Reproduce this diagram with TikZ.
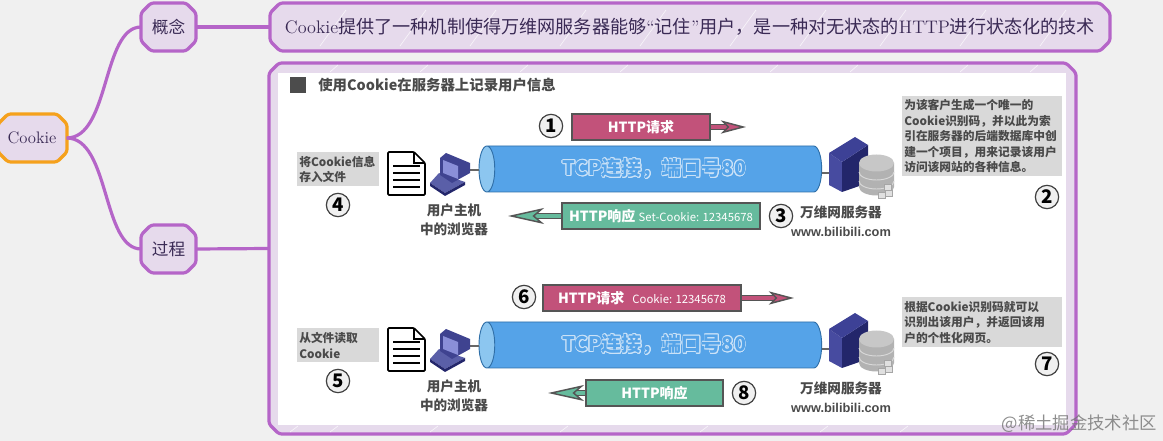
\documentclass[tikz,border=0pt]{standalone}
\usepackage{fontspec}
\newfontfamily\cjk{Noto Sans CJK SC}
\newfontfamily\lat{Liberation Sans}
\usepackage[copies]{contour}
\usetikzlibrary{shapes.geometric,arrows.meta}
\newcommand{\fwc}{\char"FF0C\relax}
\definecolor{bgcol}{HTML}{F0F0F0}
\definecolor{mapline}{HTML}{B565C8}
\definecolor{mapfill}{HTML}{E6DAEC}
\definecolor{rootline}{HTML}{F5A11C}
\definecolor{maptext}{HTML}{3A2A55}
\definecolor{imgtext}{HTML}{4A4A4A}
\definecolor{pipeblue}{HTML}{55A3E8}
\definecolor{pipeend}{HTML}{8CC6F0}
\definecolor{pipeline}{HTML}{2F6FA8}
\definecolor{reqpink}{HTML}{C2527A}
\definecolor{respgreen}{HTML}{66BB9D}
\definecolor{boxline}{HTML}{555555}
\definecolor{notegray}{HTML}{D9D9D9}
\definecolor{srvtop}{HTML}{3D4196}
\definecolor{srvleft}{HTML}{474BA0}
\definecolor{srvright}{HTML}{23266B}
\definecolor{hostbody}{HTML}{3F4390}
\definecolor{hostscreen}{HTML}{8A8FD8}
\definecolor{hostbase}{HTML}{5A5FA8}
\contourlength{0.6pt}
\begin{document}
\begin{tikzpicture}[x=0.75pt,y=-0.75pt]
    \tikzstyle{mapframe}=[draw=mapline, fill=mapfill, line width=2.4pt, rounded corners=2pt]
    \tikzstyle{mapbox}=[rectangle, text=maptext, inner sep=0pt, outer sep=0pt, font=\fontsize{12.5}{15}\selectfont]
    \tikzstyle{mapedge}=[draw=mapline, line width=2.4pt]
    \tikzstyle{streak}=[white, line width=0.5pt, opacity=0.7]
    \tikzstyle{httpbox}=[draw=boxline, line width=1.5pt, text=white, inner sep=0pt, font=\cjk\bfseries\fontsize{10.5}{12}\selectfont]
    \tikzstyle{req}=[httpbox, fill=reqpink]
    \tikzstyle{resp}=[httpbox, fill=respgreen]
    \tikzstyle{reqarrow}=[draw=boxline, line width=1pt, double=reqpink, double distance=3pt, -{Stealth[length=19pt,width=10pt,inset=5pt,fill=reqpink,line width=1.1pt]}]
    \tikzstyle{resparrow}=[draw=boxline, line width=1pt, double=respgreen, double distance=3pt, -{Stealth[length=27pt,width=12pt,inset=7pt,fill=respgreen,line width=1.1pt]}]
    \tikzstyle{num}=[circle, draw=black!75, fill=black!6, line width=0.9pt, minimum size=17.5pt, inner sep=0pt, font=\cjk\bfseries\fontsize{14}{14}\selectfont, text=black]
    \tikzstyle{note}=[fill=notegray, text=imgtext, inner sep=1.5pt, align=left, anchor=north west, font=\cjk\bfseries\fontsize{8.8}{11.6}\selectfont]
    \tikzstyle{iconlabel}=[text=imgtext, align=center, font=\cjk\bfseries\fontsize{10.2}{14}\selectfont]
    \tikzstyle{pipe}=[cylinder, shape border rotate=180, aspect=0.75, cylinder uses custom fill, cylinder body fill=pipeblue, cylinder end fill=pipeend, draw=pipeline, line width=0.7pt, minimum height=257pt, minimum width=34.5pt, inner sep=0pt, font=\cjk\bfseries\fontsize{15}{18}\selectfont]

    \useasboundingbox (0,0) rectangle (1163,441);
    \fill[bgcol] (0,0) rectangle (1163,441);

    % frames under the mind map nodes
    \foreach \xa/\ya/\xb/\yb/\col in {-2/114/67/162/rootline, 141/3/196/51/mapline, 141/225/196/273/mapline, 270/3/1110/51/mapline, 269/63/1076/434/mapline}
        \draw[mapframe, draw=\col] (\xa+10,\ya) -- (\xb-10,\ya) -- (\xb,\ya+10) -- (\xb,\yb-10) -- (\xb-10,\yb) -- (\xa+10,\yb) -- (\xa,\yb-10) -- (\xa,\ya+10) -- cycle;
    \foreach \s in {320,400,470,560,640,730,800,880,960,1040}
        \draw[streak] (\s,46) -- (\s+26,10);
    \foreach \s in {330,420,520,620,770,850,960,1030}
        \draw[streak] (\s,72) -- (\s+8,65);
    \foreach \s in {290,330,430,560,700,820,900}
        \draw[streak] (\s,432) -- (\s+8,426);

    % mind map
    \node[mapbox, minimum width=52pt, minimum height=36pt] (cookie) at (32,138) {Cookie};
    \node[mapbox, minimum width=41pt, minimum height=36pt] (concept) at (168.5,27) {\cjk 概念};
    \node[mapbox, minimum width=41pt, minimum height=36pt] (process) at (168.5,249) {\cjk 过程};
    \node[mapbox, minimum width=630pt, minimum height=36pt, font=\fontsize{13.6}{15}\selectfont] (define) at (690,27) {Cookie{\cjk 提供了一种机制使得万维网服务器能够}“{\cjk 记住}”{\cjk 用户\fwc 是一种对无状态的}HTTP{\cjk 进行状态化的技术}\hspace{9pt}};
    \node[mapbox, minimum width=605pt, minimum height=278pt] (detail) at (672.5,248.5) {};
    \fill[white] (278,73) rectangle (1066,425);

    \draw[mapedge] (cookie.east) .. controls (110,138) and (102,27) .. (concept.west);
    \draw[mapedge] (cookie.east) .. controls (110,138) and (102,249) .. (process.west);
    \draw[mapedge] (concept.east) -- (define.west);
    \draw[mapedge] (process.east) -- (detail.west);

    \fill[black!70] (290,77) rectangle (306,93);
    \node[anchor=west, text=imgtext, inner sep=0pt, font=\cjk\bfseries\fontsize{10.8}{12}\selectfont] (title) at (318,85) {使用Cookie在服务器上记录用户信息};

    % both connections
    \foreach \r/\dy in {A/0,B/176}{
        \begin{scope}[yshift=-\dy*0.75pt]
            \coordinate (hostport\r) at (470,170);
            \coordinate (srvport\r) at (829,173);
            \node[pipe] (pipe\r) at (654.5,169) {\textcolor{pipeblue}{\contour{white!70!pipeblue}{TCP连接\fwc 端口号80}}};
            \draw[black!60, line width=1pt] (hostport\r) -- (pipe\r.west |- hostport\r);
            \draw[black!60, line width=1pt] (pipe\r.east |- srvport\r) -- (srvport\r);
            % document
            \draw[black, line width=1.3pt, fill=white, rounded corners=0.8pt] (388,152) -- (414,152) -- (425,163) -- (425,195) -- (388,195) -- cycle;
            \draw[black, line width=0.9pt] (414,152) -- (414,163) -- (425,163);
            \foreach \l in {166,173,180,187}
                \draw[black, line width=1.1pt] (393,\l) -- (420,\l);
            % host
            \fill[hostbase] (430,183) -- (439,173) -- (465,182) -- (445,193) -- cycle;
            \fill[srvright] (430,183) -- (445,193) -- (465,182) -- (465,185) -- (445,196) -- (430,186) -- cycle;
            \fill[hostbody] (440,158) -- (446,153) -- (470,163) -- (470,173) -- (452,183) -- (440,175) -- cycle;
            \fill[hostscreen] (443,160) -- (458,166) -- (458,179) -- (443,173) -- cycle;
            % server
            \fill[srvleft] (829,153) -- (842,162) -- (842,192) -- (829,185) -- cycle;
            \fill[srvright] (842,162) -- (868,145) -- (868,183) -- (842,192) -- cycle;
            \fill[srvtop] (829,153) -- (855,137) -- (868,145) -- (842,162) -- cycle;
            % database
            \fill[black!30] (859,163) -- (859,187) arc[start angle=180, end angle=0, x radius=17.5, y radius=8.5] -- (894,163) -- cycle;
            \draw[white!85!black, line width=0.7pt] (859,172) arc[start angle=180, end angle=0, x radius=17.5, y radius=8];
            \draw[white!85!black, line width=0.7pt] (859,181) arc[start angle=180, end angle=0, x radius=17.5, y radius=8];
            \fill[black!22] (876.5,163) ellipse[x radius=17.5, y radius=8.5];
            \foreach \cx/\cy in {889/193,882/195,888/187}
                \fill[black!12, draw=black!35, line width=0.3pt] (\cx-3.5,\cy-3) rectangle (\cx+3.5,\cy+3);
            % labels under the icons
            \node[iconlabel] (host\r) at (454,220) {用户主机\\中的浏览器};
            \node[iconlabel] (srv\r) at (841,221.5) {万维网服务器\\{\lat\fontsize{9.6}{14}\selectfont www.bilibili.com}};
        \end{scope}
    }

    % first exchange
    \node[req, minimum width=103pt, minimum height=20pt] (req1) at (641,127) {HTTP请求};
    \coordinate (tip1) at (746,127);
    \draw[reqarrow] (req1.east) -- (tip1);
    \node[resp, minimum width=149pt, minimum height=20pt] (resp1) at (661,216) {HTTP响应 {\mdseries\fontsize{8.5}{10}\selectfont Set-Cookie: 12345678}};
    \coordinate (tip2) at (508,216);
    \draw[resparrow] (resp1.west) -- (tip2);

    % second exchange
    \node[req, minimum width=149pt, minimum height=20pt] (req2) at (642,298) {HTTP请求\hspace{6pt}{\mdseries\fontsize{8.5}{10}\selectfont Cookie: 12345678}};
    \coordinate (tip3) at (794,298);
    \draw[reqarrow] (req2.east) -- (tip3);
    \node[resp, minimum width=103pt, minimum height=20pt] (resp2) at (654.5,393) {HTTP响应};
    \coordinate (tip4) at (548,393);
    \draw[resparrow] (resp2.west) -- (tip4);

    % notes
    \node[note, text width=58pt, minimum height=25.5pt] (note4) at (297,152) {将Cookie信息\\存入文件};
    \node[note, text width=58pt, minimum height=25.5pt] (note5) at (297,328) {从文件读取\\Cookie};
    \node[note, text width=117pt, minimum height=60pt] (note2) at (902,96) {为该客户生成一个唯一的\\Cookie识别码\fwc 并以此为索\\引在服务器的后端数据库中创\\建一个项目\fwc 用来记录该用户\\访问该网站的各种信息。};
    \node[note, text width=117pt, minimum height=37.5pt] (note7) at (902,297) {根据Cookie识别码就可以\\识别出该用户\fwc 并返回该用\\户的个性化网页。};

    % step numbers
    \node[num] (n1) at (551,126) {1};
    \node[num] (n2) at (1047,197) {2};
    \node[num] (n3) at (781,216) {3};
    \node[num] (n4) at (338,205) {4};
    \node[num] (n5) at (338,381) {5};
    \node[num] (n6) at (524,297) {6};
    \node[num] (n7) at (1047,364) {7};
    \node[num] (n8) at (744,393) {8};

    \node[text=black!55, opacity=0.8, anchor=east, inner sep=0pt, font=\cjk\fontsize{13}{15}\selectfont] (mark) at (1157,424) {@稀土掘金技术社区};
\end{tikzpicture}
\end{document}
